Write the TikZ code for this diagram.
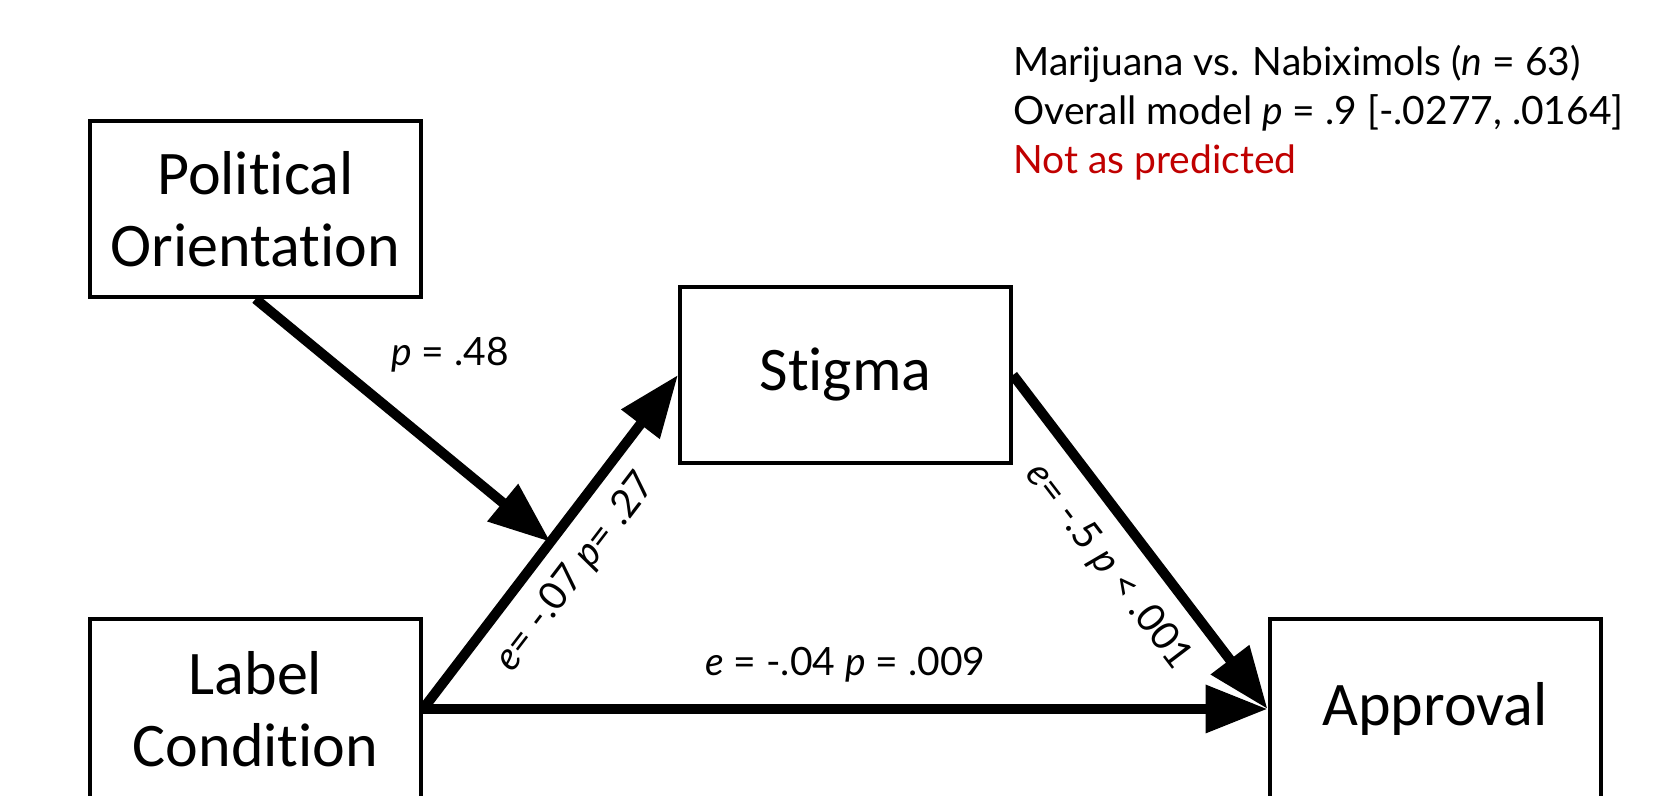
\documentclass[tikz,border=0pt]{standalone}
\usepackage{fontspec}
\setmainfont{Carlito}[Ligatures={NoCommon}]
\newfontfamily\labfont{Lato}
\usetikzlibrary{arrows.meta,calc}
\definecolor{notred}{HTML}{C00000}

\begin{document}
\begin{tikzpicture}[x=0.5pt, y=0.5pt,
  box/.style={rectangle, draw=black, line width=2pt, minimum width=165.5pt, minimum height=88pt, align=center, font=\fontsize{31}{36}\selectfont},
  arr/.style={-{Triangle[length=31pt, width=23pt]}, line width=5pt},
  est/.style={font=\labfont\fontsize{19.5}{22}\selectfont, inner sep=2pt},
  note/.style={font=\labfont\fontsize{19.5}{24.5}\selectfont, align=left, inner sep=0pt}]
\useasboundingbox (0,0) rectangle (1660,796);
\node[box] (po) at (255.5,587) {Political\\Orientation};
\node[box] (st) at (845.5,421) {Stigma};
\node[box, minimum height=90pt] (lc) at (255.5,87) {Label\\Condition};
\node[box, minimum height=90pt] (ap) at (1435,87) {Approval};
\coordinate (mid) at ($(lc.east)!0.5!(st.west)$);
\draw[arr] (lc.east) -- node[est, sloped, below=6pt, pos=0.48] {\textit{e}= -.07 \textit{p}= .27} (st.west);
\draw[arr] (st.east) -- node[est, sloped, below=7pt, pos=0.5] {\textit{e}= -.5 \textit{p} {\textless} .001} (ap.west);
\draw[arr] (lc.east) -- node[est, above=9pt] {\textit{e} = -.04 \textit{p} = .009} (ap.west);
\draw[arr] (po.south) -- node[est, pos=0.43, anchor=south west, yshift=11pt] {\textit{p} = .48} (mid);
\node[note, anchor=north west] (info) at (1013,751) {Marijuana vs. Nabiximols (\textit{n} = 63)\\Overall model \textit{p} = .9 [-.0277, .0164]\\\textcolor{notred}{Not as predicted}};
\end{tikzpicture}
\end{document}
